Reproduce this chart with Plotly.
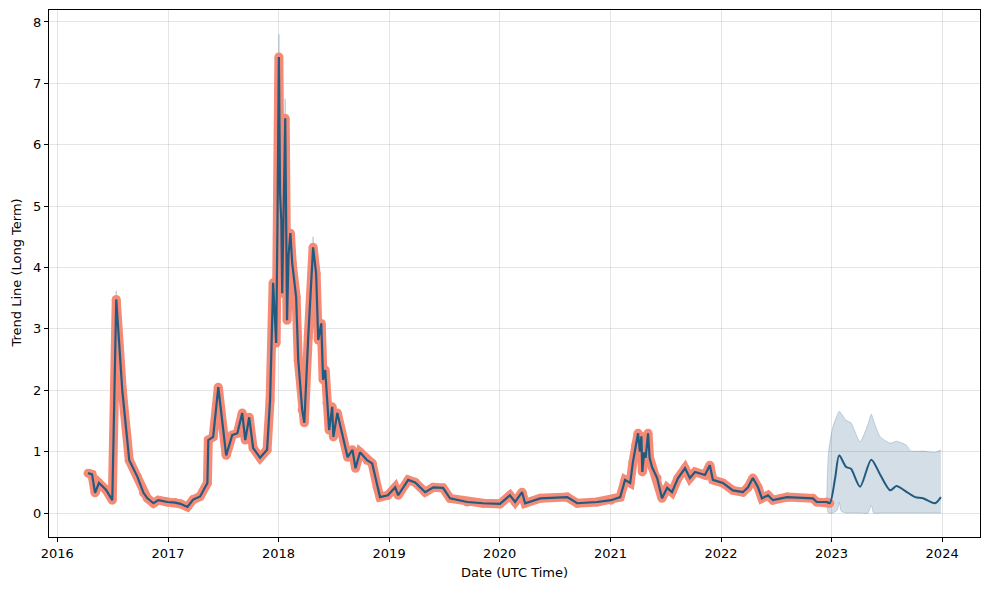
import plotly.graph_objects as go

# Historical values (actual) and fitted trend
hist_dates = [
    "2016-04-12", "2016-04-25", "2016-05-05", "2016-05-18", "2016-06-10", "2016-07-01",
    "2016-07-14", "2016-08-03", "2016-08-26", "2016-09-22", "2016-10-12", "2016-10-25",
    "2016-11-14", "2016-11-30", "2016-12-30", "2017-01-25", "2017-02-11", "2017-03-06",
    "2017-03-25", "2017-04-17", "2017-05-11", "2017-05-14", "2017-05-30", "2017-06-16",
    "2017-07-12", "2017-08-01", "2017-08-18", "2017-09-03", "2017-09-13", "2017-09-26",
    "2017-10-09", "2017-11-01", "2017-11-24", "2017-12-04", "2017-12-14", "2017-12-24",
    "2017-12-28", "2018-01-02", "2018-01-06", "2018-01-10", "2018-01-13", "2018-01-18",
    "2018-01-23", "2018-01-29", "2018-02-03",
    "2018-02-09", "2018-02-15", "2018-02-28", "2018-03-07", "2018-03-20", "2018-03-27",
    "2018-04-09", "2018-04-25", "2018-05-05", "2018-05-12", "2018-05-22", "2018-05-28",
    "2018-06-04", "2018-06-10", "2018-06-17", "2018-06-27", "2018-07-01", "2018-07-14",
    "2018-08-03", "2018-08-17", "2018-09-02", "2018-09-12", "2018-09-27", "2018-10-20",
    "2018-11-06", "2018-11-23", "2018-12-02", "2018-12-28", "2019-01-21", "2019-01-31",
    "2019-03-05", "2019-03-28", "2019-04-30", "2019-05-27", "2019-06-28", "2019-07-21",
    "2019-09-16", "2019-11-07", "2020-01-02", "2020-02-04", "2020-02-21", "2020-03-15",
    "2020-03-25", "2020-05-14", "2020-08-11", "2020-09-13", "2020-11-18", "2021-01-03",
    "2021-02-02", "2021-02-18", "2021-03-07", "2021-03-16", "2021-03-25", "2021-04-02",
    "2021-04-08", "2021-04-13", "2021-04-16",
    "2021-04-22", "2021-04-27", "2021-05-05", "2021-05-10", "2021-05-18", "2021-06-04",
    "2021-06-20", "2021-07-07",
    "2021-07-23", "2021-08-12", "2021-09-04", "2021-09-20", "2021-10-07", "2021-11-09",
    "2021-11-25", "2021-12-05", "2022-01-07", "2022-02-09", "2022-03-14", "2022-03-31",
    "2022-04-16", "2022-05-03", "2022-05-16", "2022-06-05", "2022-06-21", "2022-08-07",
    "2022-10-31", "2022-11-13", "2022-12-16", "2022-12-26",
]
hist_values = [
    0.65, 0.63, 0.33, 0.49, 0.38, 0.21,
    3.48, 2.00, 0.86, 0.59, 0.33, 0.24,
    0.16, 0.21, 0.18, 0.17, 0.15, 0.10,
    0.22, 0.27, 0.49, 1.19, 1.24, 2.05,
    0.94, 1.27, 1.30, 1.63, 1.19, 1.56,
    1.06, 0.90, 1.03, 1.84, 3.75, 2.77,
    4.50, 7.43, 5.20, 4.77, 3.58, 5.40,
    6.43, 3.14, 4.20,
    4.56, 4.07, 3.52, 2.49, 1.68, 1.47,
    2.87, 4.33, 3.90, 2.82, 3.09, 2.17,
    2.33, 1.79, 1.35, 1.73, 1.24, 1.63,
    1.19, 0.91, 1.03, 0.73, 0.99, 0.86,
    0.81, 0.42, 0.26, 0.29, 0.42, 0.29,
    0.54, 0.50, 0.34, 0.42, 0.41, 0.24,
    0.18, 0.16, 0.15, 0.29, 0.18, 0.34,
    0.16, 0.24, 0.26, 0.16, 0.18, 0.21,
    0.26, 0.54, 0.49, 0.83, 1.10, 1.30,
    1.00, 1.25, 0.67,
    0.99, 0.90, 1.30, 0.90, 0.75, 0.57,
    0.24, 0.41,
    0.34, 0.57, 0.73, 0.57, 0.67, 0.62,
    0.78, 0.54, 0.49, 0.37, 0.34, 0.42,
    0.57, 0.42, 0.24, 0.29, 0.21, 0.26,
    0.24, 0.18, 0.18, 0.16,
]

# Forecast trend
fc_dates = [
    "2023-01-13", "2023-01-26", "2023-02-18", "2023-03-06", "2023-04-05", "2023-05-12",
    "2023-06-11", "2023-07-14", "2023-08-03", "2023-09-04", "2023-10-04", "2023-10-30",
    "2023-12-08", "2023-12-28",
]
fc_values = [0.58, 0.94, 0.75, 0.72, 0.43, 0.87, 0.62, 0.37, 0.44, 0.35, 0.26, 0.24, 0.16, 0.26]

# Forecast uncertainty band
band_dates = [
    "2022-12-16", "2022-12-22", "2023-01-05", "2023-01-20", "2023-01-26", "2023-02-02",
    "2023-02-18", "2023-03-06", "2023-04-05", "2023-05-01", "2023-05-12", "2023-05-20",
    "2023-06-11", "2023-07-14", "2023-08-03", "2023-09-04", "2023-09-20", "2023-10-30",
    "2023-12-08", "2023-12-28",
]
band_upper = [0.25, 1.00, 1.40, 1.60, 1.66, 1.62, 1.51, 1.47, 1.16, 1.45, 1.61, 1.50,
              1.24, 1.14, 1.17, 1.11, 1.01, 1.01, 0.99, 1.03]
band_lower = [0.12, 0.00, 0.00, 0.05, 0.18, 0.03, 0.00, 0.00, 0.00, 0.00, 0.13, 0.00,
              0.00, 0.00, 0.00, 0.00, 0.00, 0.00, 0.00, 0.00]

# Historical uncertainty spikes (visible only near peaks)
spike_dates = ["2016-07-14", "2018-01-02", "2018-01-23", "2018-02-09", "2018-04-25"]
spike_upper = [3.62, 7.80, 6.75, 4.62, 4.50]

tick_years = [2016, 2017, 2018, 2019, 2020, 2021, 2022, 2023, 2024]

DARK = "#235b80"
SALMON = "#f58a76"

fig = go.Figure()

sx, sy = [], []
for d, u in zip(spike_dates, spike_upper):
    v = hist_values[hist_dates.index(d)]
    sx += [d, d, None]
    sy += [v, u, None]
fig.add_trace(go.Scatter(x=sx, y=sy, mode="lines",
                         line=dict(color="rgba(120,150,175,0.45)", width=1.5),
                         hoverinfo="skip", showlegend=False))

fig.add_trace(go.Scatter(x=band_dates, y=band_lower, mode="lines",
                         line=dict(color="rgba(35,91,128,0.22)", width=1, shape="spline", smoothing=0.6),
                         showlegend=False, hoverinfo="skip"))
fig.add_trace(go.Scatter(x=band_dates, y=band_upper, mode="lines", fill="tonexty",
                         fillcolor="rgba(35,91,128,0.2)",
                         line=dict(color="rgba(35,91,128,0.22)", width=1, shape="spline", smoothing=0.6),
                         showlegend=False, hoverinfo="skip"))

fig.add_trace(go.Scatter(x=hist_dates, y=hist_values, mode="lines+markers",
                         line=dict(color=SALMON, width=9),
                         marker=dict(color=SALMON, size=9, line=dict(width=0)),
                         showlegend=False))

fig.add_trace(go.Scatter(x=hist_dates, y=hist_values, mode="lines",
                         line=dict(color=DARK, width=2.2), showlegend=False))
fig.add_trace(go.Scatter(x=hist_dates[-2:] + fc_dates, y=hist_values[-2:] + fc_values, mode="lines",
                         line=dict(color=DARK, width=2.0, shape="spline", smoothing=0.8),
                         showlegend=False))

axis_common = dict(
    showline=True, linecolor="black", linewidth=1, mirror=True,
    ticks="outside", ticklen=4, tickwidth=1, tickcolor="black",
    showgrid=True, gridcolor="rgba(0,0,0,0.1)", gridwidth=1,
    zeroline=False, automargin=False,
    tickfont=dict(family="DejaVu Sans", size=13, color="black"),
)

# The page body has an 8px default margin; the figure is sized so that it fits
# the 989x590 window without scrollbars and the plot box lands where the
# reference has it.
fig.update_layout(
    width=973, height=574,
    margin=dict(l=41, r=1, t=2, b=45, autoexpand=False),
    plot_bgcolor="white", paper_bgcolor="white",
    font=dict(family="DejaVu Sans", size=13, color="black"),
    xaxis=dict(
        type="date", range=["2015-12-05", "2024-05-05"],
        tickvals=[f"{y}-01-01" for y in tick_years],
        ticktext=[str(y) for y in tick_years],
        **axis_common,
    ),
    yaxis=dict(
        range=[-0.39, 8.195],
        tickvals=[0, 1, 2, 3, 4, 5, 6, 7, 8],
        **axis_common,
    ),
    annotations=[
        dict(text="Date (UTC Time)", xref="paper", yref="paper", x=0.5, y=0,
             yshift=-35, showarrow=False, xanchor="center", yanchor="middle",
             font=dict(family="DejaVu Sans", size=13)),
        dict(text="Trend Line (Long Term)", xref="paper", yref="paper", x=0, y=0.5,
             xshift=-33, showarrow=False, textangle=-90, xanchor="center", yanchor="middle",
             font=dict(family="DejaVu Sans", size=13)),
    ],
)

fig.write_html("out.html")
